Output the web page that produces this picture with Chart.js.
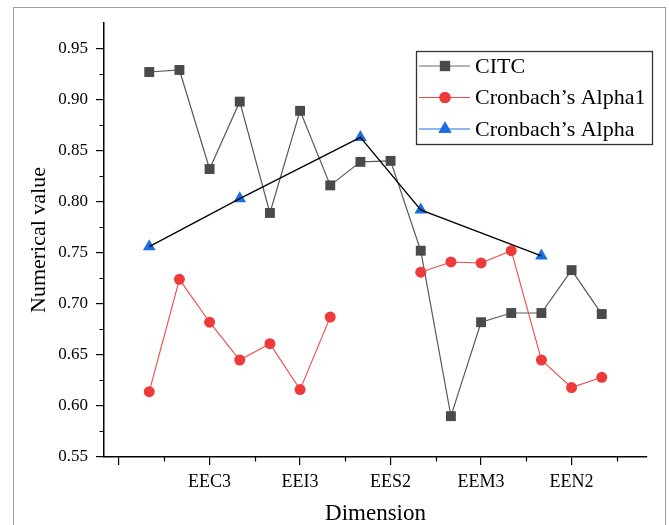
<!DOCTYPE html>
<html>
<head>
<meta charset="utf-8">
<title>CITC and Cronbach's Alpha by dimension</title>
<script src="https://cdn.jsdelivr.net/npm/chart.js@4.4.1/dist/chart.umd.min.js"></script>
<style>
  html, body { margin: 0; padding: 0; background: #fff; overflow: hidden; }
  #wrap { position: relative; width: 669px; height: 525px; }
</style>
</head>
<body>
<div id="wrap"><canvas id="chart" width="669" height="525"></canvas></div>
<script>
// items, grouped by dimension (EEC, EEI, EES, EEM, EEN)
const items = ['EEC1', 'EEC2', 'EEC3', 'EEI1', 'EEI2', 'EEI3', 'EEI4', 'EES1',
               'EES2', 'EEM1', 'EEM2', 'EEM3', 'EEM4', 'EEN1', 'EEN2', 'EEN3'];
const citc = [0.927, 0.929, 0.832, 0.898, 0.789, 0.889, 0.816, 0.839,
              0.840, 0.752, 0.590, 0.682, 0.691, 0.691, 0.733, 0.690];
// alpha if item deleted (none for the two-item EES dimension)
const alphaDeleted = [0.614, 0.724, 0.682, 0.645, 0.661, 0.616, 0.687, null,
                      null, 0.731, 0.741, 0.740, 0.752, 0.645, 0.618, 0.628];
// dimension alpha, placed at the first item of each dimension
const alphaDim = [0.756, null, null, 0.803, null, null, null, 0.863,
                  null, 0.792, null, null, null, 0.747, null, null];
const labelledItems = [3, 6, 9, 12, 15];
const yTicks = [0.55, 0.60, 0.65, 0.70, 0.75, 0.80, 0.85, 0.90, 0.95];

const SERIF = '"Liberation Serif", "Times New Roman", serif';
const toPoints = arr => arr.map((v, i) => ({ x: i + 1, y: v }));

const legendItems = [
  { text: 'CITC', line: '#6a6a6a', fill: '#4a4a4a', style: 'rect', r: 7.2 },
  { text: 'Cronbach’s Alpha1', line: '#f04848', fill: '#ee3a3a', style: 'circle', r: 5.6 },
  { text: 'Cronbach’s Alpha', line: '#1b6fe0', fill: '#1b6fe0', style: 'triangle', r: 7.5 }
];

// outer frame, minor ticks and the boxed legend
const decorations = {
  id: 'decorations',
  beforeDraw(chart) {
    const ctx = chart.ctx;
    ctx.save();
    ctx.strokeStyle = '#a0a0a0';
    ctx.lineWidth = 1;
    ctx.strokeRect(13.5, 7.5, 652, 530);
    ctx.restore();
  },
  afterDraw(chart) {
    const ctx = chart.ctx;
    const xs = chart.scales.x, ys = chart.scales.y;
    const area = chart.chartArea;
    ctx.save();
    ctx.strokeStyle = '#000';
    ctx.lineWidth = 1.2;
    ctx.beginPath();
    for (let v = 1.5; v < 17.5; v += 3) {
      const px = Math.round(xs.getPixelForValue(v)) + 0.5;
      ctx.moveTo(px, area.bottom);
      ctx.lineTo(px, area.bottom + 4.5);
    }
    for (let k = 0; k < 8; k++) {
      const py = Math.round(ys.getPixelForValue(0.575 + k * 0.05)) + 0.5;
      ctx.moveTo(area.left, py);
      ctx.lineTo(area.left - 4.5, py);
    }
    ctx.stroke();

    // legend
    const box = { x: 416, y: 51, w: 236, h: 93 };
    ctx.fillStyle = '#fff';
    ctx.fillRect(box.x, box.y, box.w, box.h);
    ctx.strokeStyle = '#333';
    ctx.lineWidth = 1.3;
    ctx.strokeRect(box.x + 0.5, box.y + 0.5, box.w, box.h);
    ctx.font = '22px ' + SERIF;
    ctx.textBaseline = 'middle';
    ctx.textAlign = 'left';
    legendItems.forEach((it, i) => {
      const cy = 66 + i * 31.5;
      ctx.strokeStyle = it.line;
      ctx.lineWidth = 1;
      ctx.beginPath();
      ctx.moveTo(419, cy);
      ctx.lineTo(470, cy);
      ctx.stroke();
      ctx.fillStyle = it.fill;
      Chart.helpers.drawPoint(ctx, { pointStyle: it.style, radius: it.r, borderWidth: 0 }, 445, cy);
      ctx.fill();
      ctx.fillStyle = '#000';
      ctx.fillText(it.text, 475, cy + 1);
    });
    ctx.restore();
  }
};

new Chart(document.getElementById('chart'), {
  type: 'line',
  data: {
    datasets: [
      {
        label: 'CITC',
        data: toPoints(citc),
        borderColor: '#5a5a5a',
        borderWidth: 1.2,
        pointStyle: 'rect',
        pointRadius: 7,
        pointBackgroundColor: '#4a4a4a',
        pointBorderColor: '#4a4a4a',
        pointBorderWidth: 0,
        order: 4
      },
      {
        label: 'Cronbach’s Alpha1',
        data: toPoints(alphaDeleted),
        borderColor: '#f04848',
        borderWidth: 1.1,
        pointStyle: 'circle',
        pointRadius: 5.5,
        pointBackgroundColor: '#ee3a3a',
        pointBorderColor: '#ee3a3a',
        pointBorderWidth: 0,
        spanGaps: false,
        order: 3
      },
      {
        label: 'Cronbach’s Alpha',
        data: toPoints(alphaDim).filter(p => p.y !== null),
        showLine: false,
        pointStyle: 'triangle',
        pointRadius: 7.3,
        pointBackgroundColor: '#1b6fe0',
        pointBorderColor: '#1b6fe0',
        pointBorderWidth: 0,
        order: 2
      },
      {
        // connecting line for the dimension alphas, drawn above the markers
        label: 'alpha line',
        data: toPoints(alphaDim).filter(p => p.y !== null),
        borderColor: '#000',
        borderWidth: 1.3,
        pointRadius: 0,
        order: 1
      }
    ]
  },
  options: {
    responsive: false,
    animation: false,
    events: [],
    layout: { padding: { top: 23, right: 22, left: 0, bottom: 0 } },
    plugins: { legend: { display: false }, tooltip: { enabled: false } },
    scales: {
      x: {
        type: 'linear',
        min: -0.5,
        max: 17.5,
        afterBuildTicks: s => { s.ticks = [0].concat(labelledItems).map(v => ({ value: v })); },
        afterFit: s => { s.height = 68; },
        ticks: {
          callback: v => (v > 0 ? items[v - 1] : ''),
          color: '#000',
          font: { family: SERIF, size: 18 },
          padding: 6,
          maxRotation: 0,
          autoSkip: false
        },
        grid: { drawOnChartArea: false, drawTicks: true, tickLength: 8, color: '#000', lineWidth: 1.2 },
        border: { display: true, color: '#000', width: 1.5 },
        title: {
          display: true,
          text: 'Dimension',
          color: '#000',
          font: { family: SERIF, size: 23 },
          padding: { top: 0, bottom: -3 }
        }
      },
      y: {
        min: 0.55,
        max: 0.975,
        afterBuildTicks: s => { s.ticks = yTicks.map(v => ({ value: v })); },
        afterFit: s => { s.width = 104; },
        ticks: {
          callback: v => v.toFixed(2),
          color: '#000',
          font: { family: SERIF, size: 17 },
          padding: 8
        },
        grid: { drawOnChartArea: false, drawTicks: true, tickLength: 8, color: '#000', lineWidth: 1.2 },
        border: { display: true, color: '#000', width: 1.5 },
        title: {
          display: true,
          text: 'Numerical value',
          color: '#000',
          font: { family: SERIF, size: 22 },
          padding: { top: 26, bottom: 0 }
        }
      }
    }
  },
  plugins: [decorations]
});
</script>
</body>
</html>
